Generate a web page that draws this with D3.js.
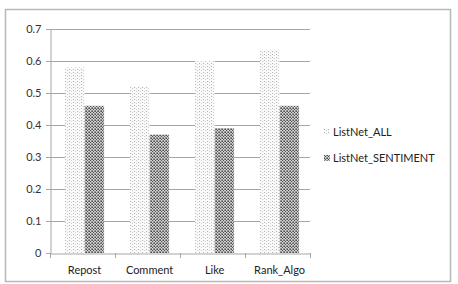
<!DOCTYPE html>
<html>
<head>
<meta charset="utf-8">
<script src="https://cdn.jsdelivr.net/npm/d3@7"></script>
<style>
  body { margin: 0; background: #fff; }
  #chart { width: 458px; height: 284px; }
</style>
</head>
<body>
<div id="chart"></div>
<script>
  // data
  const categories = ['Repost', 'Comment', 'Like', 'Rank_Algo'];
  const seriesNames = ['ListNet_ALL', 'ListNet_SENTIMENT'];
  const listNetAll = [0.58, 0.52, 0.60, 0.635];
  const listNetSentiment = [0.46, 0.37, 0.39, 0.46];
  const yTicks = [0, 0.1, 0.2, 0.3, 0.4, 0.5, 0.6, 0.7];

  const node = document.getElementById('chart');
  const width = 458;
  const height = 284;
  const margin = { left: 50, right: 148, top: 29, bottom: 31 };
  const fontFam = 'Lato, "Open Sans", sans-serif';

  const svg = d3.select(node).append('svg')
    .attr('width', width)
    .attr('height', height);

  // patterns
  const defs = svg.append('defs');
  const pAll = defs.append('pattern')
    .attr('id', 'patAll')
    .attr('patternUnits', 'userSpaceOnUse')
    .attr('width', 4).attr('height', 3);
  pAll.append('rect').attr('width', 4).attr('height', 3).attr('fill', '#fafafa');
  pAll.append('rect').attr('x', 0).attr('y', 0).attr('width', 1).attr('height', 1).attr('fill', '#b0b0b0');
  pAll.append('rect').attr('x', 2).attr('y', 1).attr('width', 1).attr('height', 1).attr('fill', '#cacaca');

  const pSent = defs.append('pattern')
    .attr('id', 'patSent')
    .attr('patternUnits', 'userSpaceOnUse')
    .attr('width', 3).attr('height', 3);
  pSent.append('rect').attr('width', 3).attr('height', 3).attr('fill', '#d4d4d4');
  pSent.append('rect').attr('x', 0).attr('y', 0).attr('width', 1).attr('height', 1).attr('fill', '#505050');
  pSent.append('rect').attr('x', 2).attr('y', 0).attr('width', 1).attr('height', 1).attr('fill', '#777');
  pSent.append('rect').attr('x', 1).attr('y', 1).attr('width', 1).attr('height', 1).attr('fill', '#444');
  pSent.append('rect').attr('x', 0).attr('y', 2).attr('width', 1).attr('height', 1).attr('fill', '#858585');
  pSent.append('rect').attr('x', 2).attr('y', 2).attr('width', 1).attr('height', 1).attr('fill', '#959595');
  const fills = ['url(#patAll)', 'url(#patSent)'];

  // outer frame
  svg.append('rect')
    .attr('x', 5.5).attr('y', 9.5)
    .attr('width', 445).attr('height', 272)
    .attr('fill', '#fff')
    .attr('stroke', '#b8b8b8')
    .attr('stroke-width', 1.5);

  const x0 = d3.scaleBand()
    .domain(categories)
    .range([margin.left, width - margin.right])
    .paddingInner(0.4)
    .paddingOuter(0.2)
    .align(0.58);
  const x1 = d3.scaleBand()
    .domain(seriesNames)
    .range([0, x0.bandwidth()]);
  const y = d3.scaleLinear()
    .domain([0, 0.7])
    .range([height - margin.bottom, margin.top]);

  // gridlines
  svg.append('g').selectAll('line')
    .data(yTicks.filter((d) => d > 0))
    .enter()
    .append('line')
    .attr('x1', margin.left - 4)
    .attr('x2', width - margin.right)
    .attr('y1', (d) => Math.round(y(d)) + 0.5)
    .attr('y2', (d) => Math.round(y(d)) + 0.5)
    .attr('stroke', '#a6a6a6')
    .attr('stroke-width', 1);

  // y axis
  const yAxis = svg.append('g')
    .attr('transform', `translate(${margin.left + 0.5},0)`)
    .call(d3.axisLeft(y).tickValues(yTicks).tickFormat(d3.format('')).tickSize(4).tickPadding(5));
  yAxis.select('.domain').attr('stroke', '#a6a6a6');
  yAxis.selectAll('.tick line').attr('stroke', '#a6a6a6');
  yAxis.selectAll('text')
    .attr('font-family', fontFam)
    .attr('font-size', 11)
    .attr('fill', '#333');

  // bars
  const data = categories.map((c, i) => ({ c, vals: [listNetAll[i], listNetSentiment[i]] }));
  const groups = svg.append('g').selectAll('g')
    .data(data)
    .enter()
    .append('g')
    .attr('transform', (d) => `translate(${x0(d.c)},0)`);
  groups.selectAll('rect')
    .data((d) => d.vals.map((v, j) => ({ v, s: seriesNames[j], j })))
    .enter()
    .append('rect')
    .attr('x', (d) => x1(d.s))
    .attr('y', (d) => y(d.v))
    .attr('width', x1.bandwidth())
    .attr('height', (d) => y(0) - y(d.v))
    .attr('fill', (d) => fills[d.j]);

  // x axis
  const xAxis = svg.append('g')
    .attr('transform', `translate(0,${Math.round(y(0)) + 0.5})`)
    .call(d3.axisBottom(x0).tickSize(0).tickPadding(13));
  xAxis.select('.domain').attr('stroke', '#a6a6a6');
  xAxis.selectAll('text')
    .attr('font-family', fontFam)
    .attr('font-size', 11)
    .attr('fill', '#222');
  // category separator ticks
  const step = x0.step();
  svg.append('g').selectAll('line')
    .data(d3.range(categories.length + 1))
    .enter()
    .append('line')
    .attr('x1', (i) => margin.left + i * step + 0.5)
    .attr('x2', (i) => margin.left + i * step + 0.5)
    .attr('y1', Math.round(y(0)))
    .attr('y2', Math.round(y(0)) + 5)
    .attr('stroke', '#a6a6a6');

  // legend
  const legend = svg.append('g')
    .selectAll('g')
    .data(seriesNames)
    .enter()
    .append('g')
    .attr('transform', (d, i) => `translate(324,${129 + i * 26})`);
  legend.append('rect')
    .attr('width', 6).attr('height', 6)
    .attr('fill', (d, i) => fills[i]);
  legend.append('text')
    .attr('x', 9)
    .attr('y', 7)
    .attr('font-family', fontFam)
    .attr('font-size', 11)
    .attr('fill', '#222')
    .text((d) => d);
</script>
</body>
</html>
